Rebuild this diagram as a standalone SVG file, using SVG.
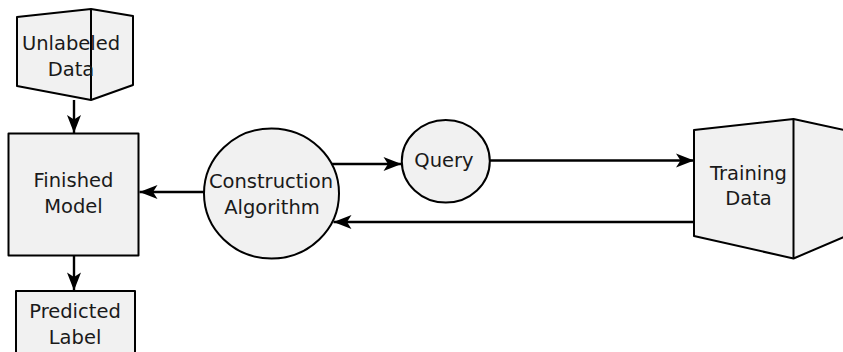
<svg xmlns="http://www.w3.org/2000/svg" width="843" height="352" viewBox="0 0 843 352">
<style>
.shape{fill:#f1f1f1;stroke:#000;stroke-width:2;stroke-linejoin:round}
.lbl{font-family:"DejaVu Sans",sans-serif;font-size:19.5px;fill:#1a1a1a;text-anchor:middle}
.edge{fill:none;stroke:#000;stroke-width:2.4}
</style>
<defs>
<marker id="ah" markerUnits="userSpaceOnUse" markerWidth="19" markerHeight="15" refX="18" refY="7" orient="auto" overflow="visible">
<path d="M0,0 L18,7 L0,14 L4.5,7 Z" fill="#000"/>
</marker>
</defs>
<rect width="843" height="352" fill="#fff"/>
<g id="connectors">
<line class="edge" x1="74" y1="100" x2="74" y2="133" marker-end="url(#ah)"/>
<line class="edge" x1="74" y1="256" x2="74" y2="290.5" marker-end="url(#ah)"/>
<line class="edge" x1="204" y1="192" x2="139.5" y2="192" marker-end="url(#ah)"/>
<line class="edge" x1="331" y1="164" x2="401.5" y2="164" marker-end="url(#ah)"/>
<line class="edge" x1="490" y1="160.5" x2="694" y2="160.5" marker-end="url(#ah)"/>
<line class="edge" x1="694" y1="222" x2="333.5" y2="222" marker-end="url(#ah)"/>
</g>
<g id="unlabeled-data">
<path class="shape" d="M17,17 L91,9 L133,16 L133,85 L91,100 L17,86 Z"/>
<line x1="91" y1="9" x2="91" y2="100" stroke="#000" stroke-width="2"/>
<text class="lbl" x="71" y="50">Unlabeled</text>
<text class="lbl" x="71" y="75.5">Data</text>
</g>
<g id="finished-model">
<rect class="shape" x="8.5" y="133.5" width="130" height="122"/>
<text class="lbl" x="73.5" y="186.5">Finished</text>
<text class="lbl" x="73.5" y="212.5">Model</text>
</g>
<g id="predicted-label">
<rect class="shape" x="16" y="291" width="119" height="80"/>
<text class="lbl" x="75" y="317.5">Predicted</text>
<text class="lbl" x="75" y="343.5">Label</text>
</g>
<g id="construction-algorithm">
<ellipse class="shape" cx="271.5" cy="193.5" rx="67.5" ry="65"/>
<text class="lbl" x="271" y="187.5">Construction</text>
<text class="lbl" x="272" y="213.5">Algorithm</text>
</g>
<g id="query">
<ellipse class="shape" cx="445.8" cy="161.3" rx="44" ry="41.3"/>
<text class="lbl" x="444" y="166.5">Query</text>
</g>
<g id="training-data">
<path class="shape" d="M694,130 L793.5,119 L844,130 L844,237 L793.5,258.5 L694,236 Z"/>
<line x1="793.5" y1="119" x2="793.5" y2="258.5" stroke="#000" stroke-width="2"/>
<text class="lbl" x="748.5" y="179.5">Training</text>
<text class="lbl" x="748.5" y="204.5">Data</text>
</g>
</svg>
